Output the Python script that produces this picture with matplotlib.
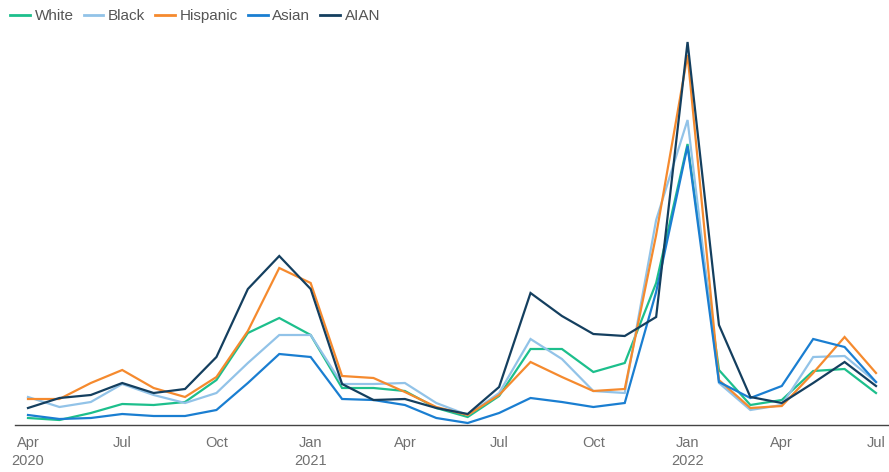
import numpy as np
import matplotlib
matplotlib.use("Agg")
from matplotlib import pyplot as plt

# Monthly values, Apr 2020 .. Jul 2022 (relative scale, no y axis shown)
months = ["Apr 2020", "May 2020", "Jun 2020", "Jul 2020", "Aug 2020", "Sep 2020",
          "Oct 2020", "Nov 2020", "Dec 2020", "Jan 2021", "Feb 2021", "Mar 2021",
          "Apr 2021", "May 2021", "Jun 2021", "Jul 2021", "Aug 2021", "Sep 2021",
          "Oct 2021", "Nov 2021", "Dec 2021", "Jan 2022", "Feb 2022", "Mar 2022",
          "Apr 2022", "May 2022", "Jun 2022", "Jul 2022"]

white = [7, 5, 12, 21, 20, 23, 45, 92, 107, 90, 37, 37, 34, 17, 8, 29, 76, 76,
         53, 62, 142, 281, 55, 20, 25, 54, 56, 32]
black = [28, 18, 23, 41, 30, 22, 32, 62, 90, 90, 41, 41, 42, 22, 10, 32, 86, 66,
         34, 32, 205, 305, 42, 15, 20, 68, 69, 43]
hispanic = [26, 26, 42, 55, 37, 28, 48, 94, 157, 142, 49, 47, 33, 18, 10, 30, 63, 48,
            34, 36, 190, 370, 45, 17, 19, 52, 88, 52]
asian = [10, 6, 7, 11, 9, 9, 15, 42, 71, 68, 26, 25, 20, 7, 2, 12, 27, 23,
         18, 22, 133, 279, 43, 27, 39, 86, 78, 43]
aian = [17, 27, 30, 42, 32, 36, 68, 136, 169, 136, 41, 25, 26, 17, 11, 38, 132, 109,
        91, 89, 108, 383, 100, 28, 22, 42, 63, 39]

series = [("White", white, "#1DBF8C"),
          ("Black", black, "#92C3E8"),
          ("Hispanic", hispanic, "#F58A2E"),
          ("Asian", asian, "#1A7ED1"),
          ("AIAN", aian, "#143F5F")]

tick_pos = list(range(0, 28, 3))
tick_labels = ["Apr\n2020", "Jul", "Oct", "Jan\n2021", "Apr", "Jul", "Oct",
               "Jan\n2022", "Apr", "Jul"]

x = np.arange(len(months))

fig = plt.figure(figsize=(8.89, 4.72), dpi=100)
ax = fig.add_axes([15 / 889, 1 - 425 / 472, 1 - 15 / 889, (425 - 35) / 472])

for name, vals, col in series:
    ax.plot(x, vals, color=col, lw=1.6, label=name, solid_joinstyle="miter")

ax.set_xlim(-13 / 31.4, 27 + 13 / 31.4)
ax.set_ylim(0, 390)
ax.set_yticks([])
ax.set_xticks(tick_pos)
ax.set_xticklabels(tick_labels, color="#707070", fontsize=10.5,
                   family=["Liberation Sans Narrow", "Liberation Sans"],
                   linespacing=1.35)
ax.tick_params(axis="x", length=0, pad=8)
for s in ["top", "right", "left"]:
    ax.spines[s].set_visible(False)
ax.spines["bottom"].set_color("#444444")
ax.spines["bottom"].set_linewidth(1.0)

leg = fig.legend(loc="upper left", bbox_to_anchor=(-0.004, 1.01), ncol=5,
                 frameon=False, handlelength=1.3, handletextpad=0.3,
                 columnspacing=0.65,
                 prop={"family": ["Liberation Sans", "DejaVu Sans"], "size": 11})
for t in leg.get_texts():
    t.set_color("#555555")
for h in leg.get_lines():
    h.set_linewidth(2)

fig.savefig("out.png", dpi=100)
